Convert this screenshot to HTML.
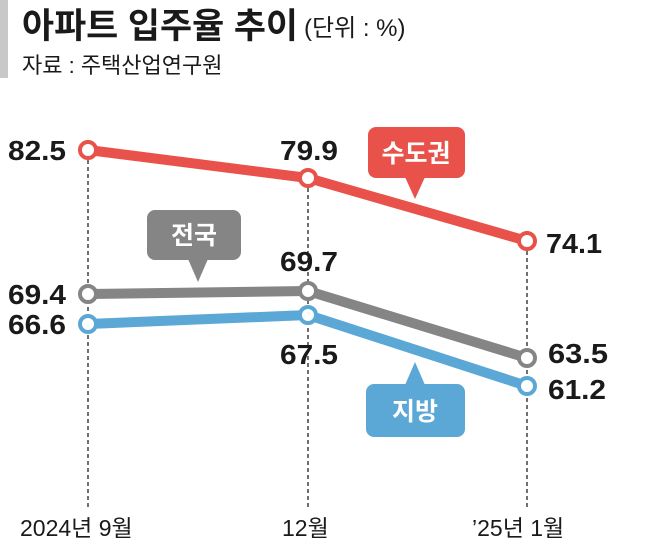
<!DOCTYPE html>
<html><head><meta charset="utf-8"><style>
body{margin:0;background:#fff;}
svg{display:block}
text{font-family:"Liberation Sans","Noto Sans CJK KR",sans-serif;}
</style></head><body>
<svg width="658" height="554" viewBox="0 0 658 554">
<rect x="0" y="0" width="8" height="78" fill="#c8c8c8"/>
<text x="22" y="38" font-size="35" font-weight="bold" fill="#1a1a1a" textLength="276" lengthAdjust="spacingAndGlyphs">아파트 입주율 추이</text>
<text x="304" y="36" font-size="24" fill="#1a1a1a">(단위 : %)</text>
<text x="22" y="73" font-size="22" fill="#1a1a1a">자료 : 주택산업연구원</text>
<g stroke="#222" stroke-width="1.3" stroke-dasharray="4,3">
<line x1="88" y1="160" x2="88" y2="510"/>
<line x1="308" y1="188" x2="308" y2="510"/>
<line x1="527" y1="251" x2="527" y2="510"/>
</g>
<polyline points="88,150 308,178 527,241" fill="none" stroke="#e8524a" stroke-width="10" stroke-linejoin="round"/>
<polyline points="88,294 308,291 527,358" fill="none" stroke="#858585" stroke-width="10" stroke-linejoin="round"/>
<polyline points="88,324 308,315 527,386" fill="none" stroke="#5ba8d6" stroke-width="10" stroke-linejoin="round"/>
<g fill="#fff" stroke-width="4">
<circle cx="88" cy="150" r="8" stroke="#e8524a"/><circle cx="308" cy="178" r="8" stroke="#e8524a"/><circle cx="527" cy="241" r="8" stroke="#e8524a"/>
<circle cx="88" cy="294" r="8" stroke="#858585"/><circle cx="308" cy="291" r="8" stroke="#858585"/><circle cx="527" cy="358" r="8" stroke="#858585"/>
<circle cx="88" cy="324" r="8" stroke="#5ba8d6"/><circle cx="308" cy="315" r="8" stroke="#5ba8d6"/><circle cx="527" cy="386" r="8" stroke="#5ba8d6"/>
</g>
<g font-size="28" font-weight="bold" fill="#1a1a1a">
<text x="8" y="160" textLength="58" lengthAdjust="spacingAndGlyphs">82.5</text>
<text x="280" y="160" textLength="58" lengthAdjust="spacingAndGlyphs">79.9</text>
<text x="546" y="253" textLength="56" lengthAdjust="spacingAndGlyphs">74.1</text>
<text x="280" y="271" textLength="58" lengthAdjust="spacingAndGlyphs">69.7</text>
<text x="8" y="304" textLength="58" lengthAdjust="spacingAndGlyphs">69.4</text>
<text x="8" y="334" textLength="58" lengthAdjust="spacingAndGlyphs">66.6</text>
<text x="280" y="364" textLength="58" lengthAdjust="spacingAndGlyphs">67.5</text>
<text x="548" y="363" textLength="60" lengthAdjust="spacingAndGlyphs">63.5</text>
<text x="548" y="399" textLength="58" lengthAdjust="spacingAndGlyphs">61.2</text>
</g>
<rect x="368" y="127" width="97" height="51" rx="8" fill="#e8524a"/>
<polygon points="405,177 425,177 415,199" fill="#e8524a"/>
<text x="416" y="162" font-size="25" fill="#fff" text-anchor="middle" font-weight="bold">수도권</text>
<rect x="147" y="210" width="94" height="50" rx="8" fill="#858585"/>
<polygon points="188,259 208,259 198,282" fill="#858585"/>
<text x="194" y="244" font-size="25" fill="#fff" text-anchor="middle" font-weight="bold">전국</text>
<rect x="366" y="384" width="99" height="53" rx="8" fill="#5ba8d6"/>
<polygon points="405,385 425,385 415,362" fill="#5ba8d6"/>
<text x="415" y="420" font-size="25" fill="#fff" text-anchor="middle" font-weight="bold">지방</text>
<g font-size="23" fill="#1a1a1a">
<text x="20" y="536">2024년 9월</text>
<text x="282" y="536">12월</text>
<text x="472" y="536">’25년 1월</text>
</g>
</svg>
</body></html>
